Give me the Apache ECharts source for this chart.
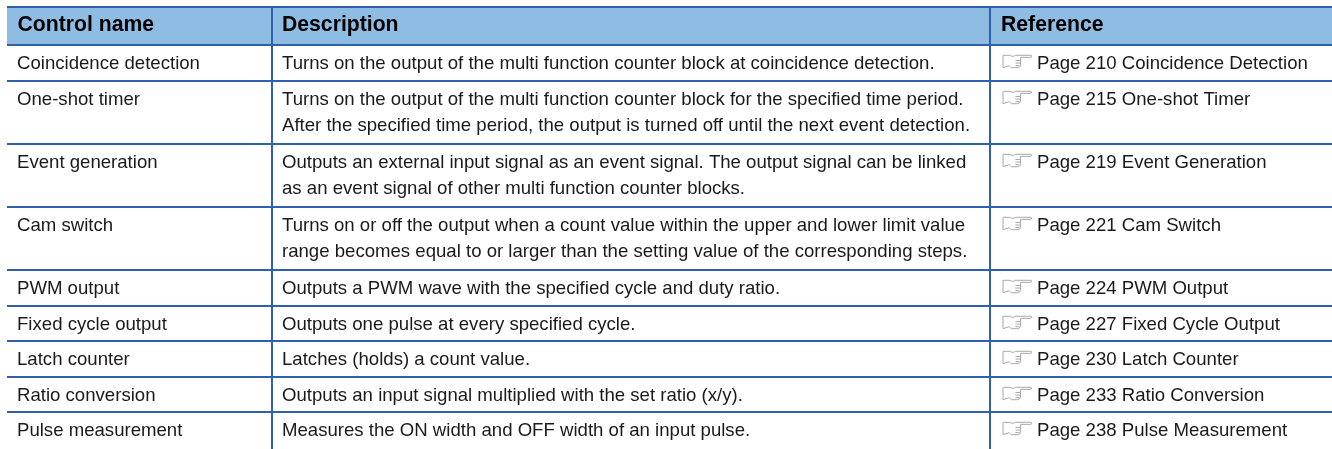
<!DOCTYPE html>
<html>
<head>
<meta charset="utf-8">
<style>
  html, body { margin: 0; padding: 0; background: #fff; }
  #main { width: 1332px; height: 449px; }
</style>
<script src="https://cdn.jsdelivr.net/npm/echarts@6/dist/echarts.min.js"></script>
</head>
<body>
<div id="main"></div>
<script>
// table content
var headers = ['Control name', 'Description', 'Reference']
var controlNames = [
  'Coincidence detection', 'One-shot timer', 'Event generation', 'Cam switch', 'PWM output',
  'Fixed cycle output', 'Latch counter', 'Ratio conversion', 'Pulse measurement'
]
var descriptions = [
  ['Turns on the output of the multi function counter block at coincidence detection.'],
  ['Turns on the output of the multi function counter block for the specified time period.', 'After the specified time period, the output is turned off until the next event detection.'],
  ['Outputs an external input signal as an event signal. The output signal can be linked', 'as an event signal of other multi function counter blocks.'],
  ['Turns on or off the output when a count value within the upper and lower limit value', 'range becomes equal to or larger than the setting value of the corresponding steps.'],
  ['Outputs a PWM wave with the specified cycle and duty ratio.'],
  ['Outputs one pulse at every specified cycle.'],
  ['Latches (holds) a count value.'],
  ['Outputs an input signal multiplied with the set ratio (x/y).'],
  ['Measures the ON width and OFF width of an input pulse.']
]
var references = [
  'Page 210 Coincidence Detection', 'Page 215 One-shot Timer', 'Page 219 Event Generation',
  'Page 221 Cam Switch', 'Page 224 PWM Output', 'Page 227 Fixed Cycle Output',
  'Page 230 Latch Counter', 'Page 233 Ratio Conversion', 'Page 238 Pulse Measurement'
]

// layout of the table, in axis units
var colEdges = [7, 272, 990, 1332]
var rowEdges = [7, 45, 81, 144, 207, 270, 306, 341, 377, 412, 449]
var LINE = '#2f5fad'
var HEAD = '#8fbce3'
var TEXT = '#1a1a1a'
var FONT = '"Liberation Sans", Arial, sans-serif'
var BODY_SIZE = 18.6
var HEAD_SIZE = 21.2
var LINE_STEP = 26
// pointing hand in front of each page reference
var HAND = 'M0 1 L6 1 Q8 2 10 2 L12 1 L27 1 Q29 2 27 3 L17 3 L17 11 Q16 13 14 13 L8 13 L6 11 L0 13 Z M12 6 L17 6 M12 8.5 L17 8.5 M12 11 L16 11'

function cellText(x, y, str, bold) {
  return {
    type: 'text',
    style: {
      x: x, y: y, text: str, fill: bold ? '#000' : TEXT,
      font: (bold ? 'bold ' + HEAD_SIZE : BODY_SIZE) + 'px ' + FONT,
      verticalAlign: 'middle', align: 'left'
    }
  }
}

function renderRow(params, api) {
  var i = api.value(0)
  var last = i === controlNames.length
  var x0 = api.coord([colEdges[0], 0])[0]
  var x1 = api.coord([colEdges[1], 0])[0]
  var x2 = api.coord([colEdges[2], 0])[0]
  var x3 = api.coord([colEdges[3], 0])[0]
  var top = api.coord([0, rowEdges[i]])[1]
  var bottom = api.coord([0, rowEdges[i + 1]])[1]
  var children = []
  var rowLine = function (y) {
    return { type: 'line', shape: { x1: x0, y1: y, x2: x3, y2: y }, style: { stroke: LINE, lineWidth: 2 } }
  }

  if (i === 0) {
    children.push({ type: 'rect', shape: { x: x0, y: top, width: x3 - x0, height: bottom - top }, style: { fill: HEAD } })
    children.push(cellText(x0 + 10.5, top + 18.5, headers[0], true))
    children.push(cellText(x1 + 10, top + 18.5, headers[1], true))
    children.push(cellText(x2 + 11, top + 18.5, headers[2], true))
    children.push(rowLine(top))
  } else {
    var r = i - 1
    var mid = top + 18.5
    children.push(cellText(x0 + 10, mid, controlNames[r]))
    descriptions[r].forEach(function (txt, n) {
      children.push(cellText(x1 + 10, mid + n * LINE_STEP, txt))
    })
    children.push({
      type: 'path', x: x2 + 13, y: top + 9.5,
      shape: { pathData: HAND, x: 0, y: 0, width: 29, height: 14 },
      style: { fill: '#fff', stroke: '#a8a8a8', lineWidth: 1 }
    })
    children.push(cellText(x2 + 47, mid, references[r]))
  }
  if (!last) children.push(rowLine(bottom))
  children.push({ type: 'line', shape: { x1: x1, y1: top, x2: x1, y2: bottom }, style: { stroke: LINE, lineWidth: 2 } })
  children.push({ type: 'line', shape: { x1: x2, y1: top, x2: x2, y2: bottom }, style: { stroke: LINE, lineWidth: 2 } })
  return { type: 'group', children: children }
}

var rowIndex = []
for (var i = 0; i <= controlNames.length; i++) rowIndex.push([i])

var myChart = echarts.init(document.getElementById('main'), null, { renderer: 'canvas' })
myChart.setOption({
  animation: false,
  grid: { left: 0, right: 0, top: 0, bottom: 0 },
  xAxis: { type: 'value', min: 0, max: 1332, show: false },
  yAxis: { type: 'value', min: 0, max: 449, inverse: true, show: false },
  series: [{
    type: 'custom',
    coordinateSystem: 'cartesian2d',
    encode: { x: -1, y: -1 },
    data: rowIndex,
    clip: false,
    silent: true,
    renderItem: renderRow
  }]
})
</script>
</body>
</html>
